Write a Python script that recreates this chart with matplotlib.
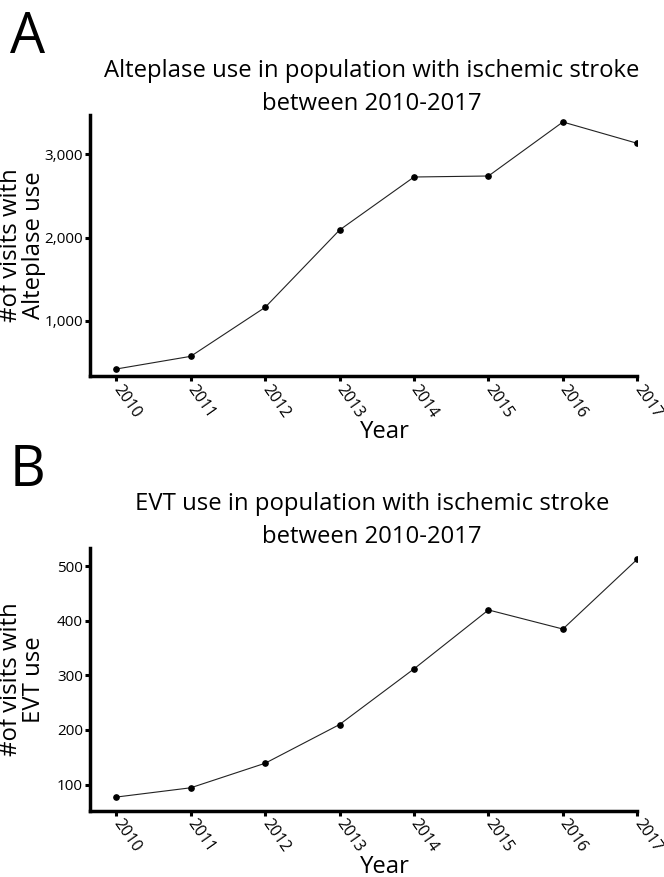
import numpy as np
import matplotlib
matplotlib.use("Agg")
import matplotlib.pyplot as plt

plt.rcParams['font.family'] = ['Open Sans', 'DejaVu Sans']

years = [2010, 2011, 2012, 2013, 2014, 2015, 2016, 2017]
alteplase = [424, 576, 1164, 2092, 2728, 2740, 3388, 3132]
evt = [77, 94, 139, 210, 312, 420, 385, 513]

alteplase_ticks = [1000, 2000, 3000]
evt_ticks = [100, 200, 300, 400, 500]

W, H = 664, 877
TICK_FONT = ['Liberation Sans Narrow', 'Open Sans', 'DejaVu Sans']

def fx(px): return px / W
def fy(py): return 1 - py / H

def panel(top_px, bot_px, xs, ys, yticks, ylim, ylab, title1, letter):
    fig = plt.gcf()
    left, right = 90, 637.3
    rect = [fx(left), fy(bot_px), fx(right) - fx(left), fy(top_px) - fy(bot_px)]
    ax = fig.add_axes(rect)
    ax.plot(xs, ys, color="#222222", lw=0.8, marker="o", ms=3.8,
            mfc="black", mec="black")
    ax.set_xlim(2010 - 26.5 / 75.0, 2017)
    ax.set_ylim(*ylim)
    ax.set_xticks(xs)
    ax.set_xticklabels([str(x) for x in xs], rotation=-55, ha="left",
                       rotation_mode="anchor", va="center",
                       fontsize=11.5, family=TICK_FONT)
    ax.set_yticks(yticks)
    ax.set_yticklabels([f"{v:,}" for v in yticks], fontsize=11, family=TICK_FONT)
    for s in ["top", "right"]:
        ax.spines[s].set_visible(False)
    for s in ["left", "bottom"]:
        ax.spines[s].set_linewidth(2.5)
    ax.tick_params(axis="both", width=2.2, length=3.5, pad=1.5)
    ax.tick_params(axis="x", pad=4)
    cx = fx(372)
    fig.text(fx(10), fy(top_px - 62), letter, fontsize=40, va="baseline", ha="left")
    fig.text(cx, fy(top_px - 38), title1, fontsize=17.2, ha="center", va="baseline")
    fig.text(cx, fy(top_px - 5), "between 2010-2017", fontsize=17.2,
             ha="center", va="baseline")
    fig.text(fx(385), fy(bot_px + 62), "Year", fontsize=17.2, ha="center", va="baseline")
    ymid = rect[1] + rect[3] / 2
    fig.text(fx(22.5), ymid, ylab, fontsize=17.2, rotation=90, ha="center",
             va="center", multialignment="center", linespacing=0.98)
    return ax

fig = plt.figure(figsize=(6.64, 8.77), dpi=100)

panel(115, 376, years, alteplase, alteplase_ticks, (340, 3472),
      "#of visits with\nAlteplase use",
      "Alteplase use in population with ischemic stroke", "A")

panel(548.3, 810.7, years, evt, evt_ticks, (52, 533),
      "#of visits with\nEVT use",
      "EVT use in population with ischemic stroke", "B")

fig.savefig("out.png", dpi=100)
